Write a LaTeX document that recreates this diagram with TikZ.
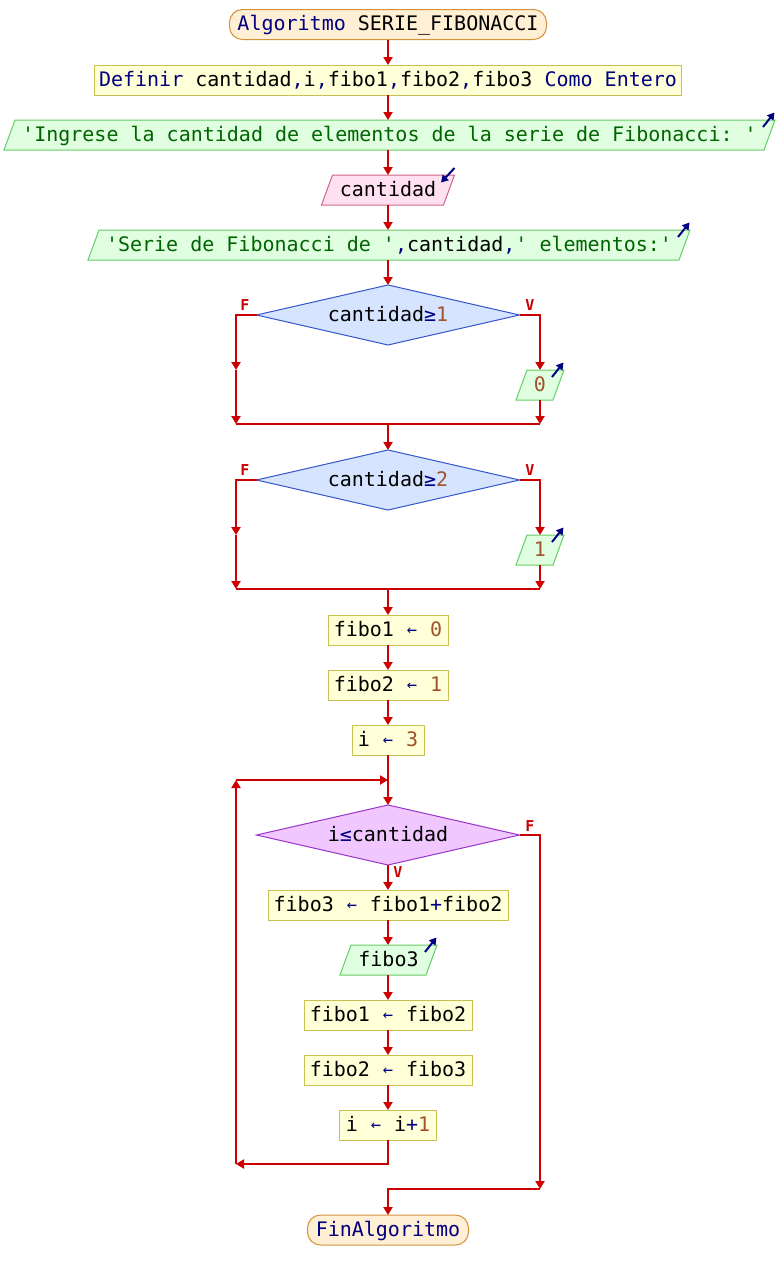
\documentclass[tikz,border=0pt]{standalone}
\usepackage{fontspec}
\setmonofont{DejaVu Sans Mono}
\usetikzlibrary{shapes.geometric,arrows.meta,backgrounds}
\definecolor{cline}{HTML}{CC0000}
\definecolor{kwcol}{HTML}{000080}
\definecolor{strcol}{HTML}{006400}
\definecolor{numcol}{HTML}{A0522D}
\definecolor{termf}{HTML}{FFF0D5}
\definecolor{termd}{HTML}{D4913A}
\definecolor{procf}{HTML}{FFFFD8}
\definecolor{procd}{HTML}{C8C050}
\definecolor{outf}{HTML}{E0FFE0}
\definecolor{outd}{HTML}{66CC66}
\definecolor{inf}{HTML}{FFE0F0}
\definecolor{ind}{HTML}{CC6688}
\definecolor{bluef}{HTML}{D6E4FF}
\definecolor{blued}{HTML}{3355CC}
\definecolor{purf}{HTML}{F0C8FF}
\definecolor{purd}{HTML}{9933CC}
\newcommand{\kwc}[1]{\textcolor{kwcol}{#1}}
\newcommand{\strc}[1]{\textcolor{strcol}{#1}}
\newcommand{\numc}[1]{\textcolor{numcol}{#1}}
\newcommand{\asg}{\textcolor{kwcol}{\makebox[12pt]{\raisebox{0.7pt}{\fontsize{17}{17}\selectfont ←}}}}
\tikzset{
  base/.style={font=\ttfamily\fontsize{20}{24}\selectfont, inner sep=0pt, outer sep=0pt,
    minimum height=30pt, text height=15pt, text depth=3pt},
  termbox/.style={base, rounded corners=13pt, draw=termd, fill=termf, line width=1pt},
  procbox/.style={base, draw=procd, fill=procf, line width=1pt},
  iobox/.style={base},
  outshape/.style={draw=outd, fill=outf, line width=1pt},
  inshape/.style={draw=ind, fill=inf, line width=1pt},
  decision/.style={base, diamond, aspect=4.383, line width=1pt, minimum width=263pt, minimum height=60pt, text height=15pt, text depth=3pt},
  conn/.style={draw=cline, line width=2.2pt, -{Triangle[width=9pt,length=8pt]}},
  plainline/.style={draw=cline, line width=2.2pt},
  iomark/.style={draw=kwcol, line width=2pt, -{Triangle[width=8pt,length=7pt]}},
  lab/.style={font=\ttfamily\bfseries\fontsize{15}{17}\selectfont, text=cline, inner sep=0pt}
}
\begin{document}
\begin{tikzpicture}[x=1pt,y=-1pt]
\useasboundingbox (0,0) rectangle (776,1280);

\node[termbox, minimum width=317pt] (start) at (388,24.5) {\kwc{Algoritmo} SERIE\_FIBONACCI};
\node[procbox, minimum width=587pt] (def) at (388,80) {\kwc{Definir} cantidad\kwc{,}i\kwc{,}fibo1\kwc{,}fibo2\kwc{,}fibo3 \kwc{Como Entero}};
\node[iobox, minimum width=760pt] (o1) at (389.5,135) {\strc{'Ingrese la cantidad de elementos de la serie de Fibonacci: '}};
\node[iobox, minimum width=122pt] (in1) at (388,190) {cantidad};
\node[iobox, minimum width=591pt] (o2) at (389,245) {\strc{'Serie de Fibonacci de '}\kwc{,}cantidad\kwc{,}\strc{' elementos:'}};
\node[decision, fill=bluef, draw=blued] (d1) at (388,315) {cantidad\kwc{≥}\numc{1}};
\node[iobox, minimum width=37pt] (z0) at (540,385) {\numc{0}};
\node[decision, fill=bluef, draw=blued] (d2) at (388,480) {cantidad\kwc{≥}\numc{2}};
\node[iobox, minimum width=37pt] (z1) at (540,550) {\numc{1}};
\node[procbox, minimum width=120pt] (f1) at (388,630) {fibo1 \asg{} \numc{0}};
\node[procbox, minimum width=120pt] (f2) at (388,685) {fibo2 \asg{} \numc{1}};
\node[procbox, minimum width=72pt] (i3) at (388,740) {i \asg{} \numc{3}};
\node[decision, fill=purf, draw=purd] (d3) at (388,835) {i\kwc{≤}cantidad};
\node[procbox, minimum width=240pt] (s1) at (388,905) {fibo3 \asg{} fibo1\kwc{+}fibo2};
\node[iobox, minimum width=86pt] (o4) at (388.5,960) {fibo3};
\node[procbox, minimum width=168pt] (s2) at (388,1015) {fibo1 \asg{} fibo2};
\node[procbox, minimum width=168pt] (s3) at (388,1070) {fibo2 \asg{} fibo3};
\node[procbox, minimum width=97pt] (s4) at (388,1125) {i \asg{} i\kwc{+}\numc{1}};
\node[termbox, minimum width=161pt] (fin) at (388,1230) {\kwc{FinAlgoritmo}};

\begin{scope}[on background layer]
\foreach \n in {o1,o2,z0,z1,o4}{
  \draw[outshape] ([xshift=5.5pt]\n.north west) -- ([xshift=5.5pt]\n.north east)
    -- ([xshift=-5.5pt]\n.south east) -- ([xshift=-5.5pt]\n.south west) -- cycle;
}
\draw[inshape] ([xshift=5.5pt]in1.north west) -- ([xshift=5.5pt]in1.north east)
    -- ([xshift=-5.5pt]in1.south east) -- ([xshift=-5.5pt]in1.south west) -- cycle;
\end{scope}

% output / input markers
\foreach \n in {o1,o2,z0,z1,o4}{
  \draw[iomark] ([xshift=-6.5pt,yshift=-7pt]\n.north east) -- ([xshift=5pt,yshift=7.5pt]\n.north east);
}
\draw[iomark] ([xshift=5.5pt,yshift=7pt]in1.north east) -- ([xshift=-8pt,yshift=-7.5pt]in1.north east);

% coordinates
\coordinate (d1wl) at (236,315);
\coordinate (d1lm) at (236,370);
\coordinate (j1l) at (236,424);
\coordinate (d1er) at (540,315);
\coordinate (j1r) at (540,424);
\coordinate (j1c) at (388,424);
\coordinate (d2wl) at (236,480);
\coordinate (d2lm) at (236,535);
\coordinate (j2l) at (236,589);
\coordinate (d2er) at (540,480);
\coordinate (j2r) at (540,589);
\coordinate (j2c) at (388,589);
\coordinate (lp) at (388,780);
\coordinate (ltl) at (236,780);
\coordinate (lb) at (388,1164);
\coordinate (lbl) at (236,1164);
\coordinate (d3er) at (540,835);
\coordinate (ex) at (540,1189);
\coordinate (exc) at (388,1189);

\draw[conn] (start.south) -- (def.north);
\draw[conn] (def.south) -- (def.south |- o1.north);
\draw[conn] (in1.north |- o1.south) -- (in1.north);
\draw[conn] (in1.south) -- (in1.south |- o2.north);
\draw[conn] (d1.north |- o2.south) -- (d1.north);

\draw[conn] (d1.west) -- (d1wl) -- (d1lm);
\draw[conn] (d1lm) -- (j1l);
\draw[conn] (d1.east) -- (d1er) -- (z0.north);
\draw[conn] (z0.south) -- (j1r);
\draw[plainline] (j1l) -- (j1r);
\draw[conn] (j1c) -- (d2.north);

\draw[conn] (d2.west) -- (d2wl) -- (d2lm);
\draw[conn] (d2lm) -- (j2l);
\draw[conn] (d2.east) -- (d2er) -- (z1.north);
\draw[conn] (z1.south) -- (j2r);
\draw[plainline] (j2l) -- (j2r);
\draw[conn] (j2c) -- (f1.north);

\draw[conn] (f1.south) -- (f2.north);
\draw[conn] (f2.south) -- (i3.north);
\draw[plainline] (i3.south) -- (lp);
\draw[conn] (lp) -- (d3.north);
\draw[conn] (d3.south) -- (s1.north);
\draw[conn] (s1.south) -- (s1.south |- o4.north);
\draw[conn] (s2.north |- o4.south) -- (s2.north);
\draw[conn] (s2.south) -- (s3.north);
\draw[conn] (s3.south) -- (s4.north);
\draw[conn] (s4.south) -- (lb) -- (lbl);
\draw[conn] (lbl) -- (ltl);
\draw[conn] (ltl) -- (lp);

\draw[conn] (d3.east) -- (d3er) -- (ex);
\draw[conn] (ex) -- (exc) -- (fin.north);

\node[lab] (lf1) at (245,305) {F};
\node[lab] (lv1) at (530,305) {V};
\node[lab] (lf2) at (245,470) {F};
\node[lab] (lv2) at (530,470) {V};
\node[lab] (lf3) at (530,826) {F};
\node[lab] (lv3) at (398,872) {V};
\end{tikzpicture}
\end{document}
